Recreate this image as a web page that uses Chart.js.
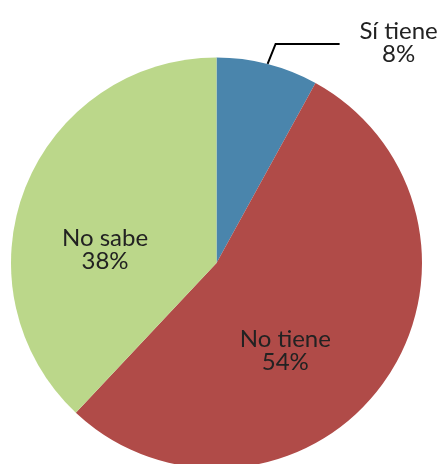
<!DOCTYPE html>
<html>
<head>
<meta charset="utf-8">
<script src="https://cdn.jsdelivr.net/npm/chart.js@4"></script>
<style>
  html, body { margin: 0; padding: 0; background: #fff; }
  #wrap { width: 441px; height: 464px; overflow: hidden; position: relative; }
  #box { width: 441px; height: 480px; }
</style>
</head>
<body>
<div id="wrap"><div id="box"><canvas id="c"></canvas></div></div>
<script>
const categories = ['Sí tiene', 'No tiene', 'No sabe'];
const percents = [8, 54, 38];
const colors = ['#4A85AC', '#B04B48', '#BBD78A'];

// label placement inside the pie: [angle clockwise from 12 o'clock in degrees, radius fraction]
const insideLabels = {
  1: { angle: 141.6, r: 0.539 },
  2: { angle: 277.4, r: 0.547 }
};

const FONT_PX = 24;
const CAP_HALF = FONT_PX * 0.717 / 2;

const labelPlugin = {
  id: 'sliceLabels',
  afterDatasetsDraw(chart) {
    const ctx = chart.ctx;
    const arcs = chart.getDatasetMeta(0).data;
    ctx.save();
    ctx.font = FONT_PX + 'px Lato, "Open Sans", sans-serif';
    ctx.fillStyle = '#222222';
    ctx.textAlign = 'center';
    ctx.textBaseline = 'alphabetic';
    arcs.forEach((arc, i) => {
      const { x, y, startAngle, endAngle, outerRadius } = arc.getProps(['x', 'y', 'startAngle', 'endAngle', 'outerRadius'], true);
      const text = [categories[i], percents[i] + '%'];
      if (insideLabels[i]) {
        const a = (insideLabels[i].angle - 90) * Math.PI / 180;
        const rr = outerRadius * insideLabels[i].r;
        const lx = x + Math.cos(a) * rr;
        const ly = y + Math.sin(a) * rr;
        ctx.fillText(text[0], lx, ly - 11.5 + CAP_HALF);
        ctx.fillText(text[1], lx, ly + 11.5 + CAP_HALF);
      } else {
        // outside label with leader line
        const mid = (startAngle + endAngle) / 2;
        const ex = x + Math.cos(mid) * outerRadius;
        const ey = y + Math.sin(mid) * outerRadius;
        const bx = ex + 8, by = ey - 20;
        const hx = bx + 64;
        ctx.strokeStyle = '#000';
        ctx.lineWidth = 2;
        ctx.beginPath();
        ctx.moveTo(ex, ey);
        ctx.lineTo(bx, by);
        ctx.lineTo(hx, by);
        ctx.stroke();
        const tx = hx + 59;
        ctx.fillText(text[0], tx, by - 13.3 + CAP_HALF);
        ctx.fillText(text[1], tx, by + 9.2 + CAP_HALF);
      }
    });
    ctx.restore();
  }
};

new Chart(document.getElementById('c'), {
  type: 'pie',
  data: {
    labels: categories,
    datasets: [{
      data: percents,
      backgroundColor: colors,
      borderWidth: 0
    }]
  },
  options: {
    responsive: true,
    maintainAspectRatio: false,
    animation: false,
    layout: { padding: { top: 57.5, bottom: 11.5, left: 11, right: 19 } },
    plugins: { legend: { display: false }, tooltip: { enabled: false } }
  },
  plugins: [labelPlugin]
});
</script>
</body>
</html>
